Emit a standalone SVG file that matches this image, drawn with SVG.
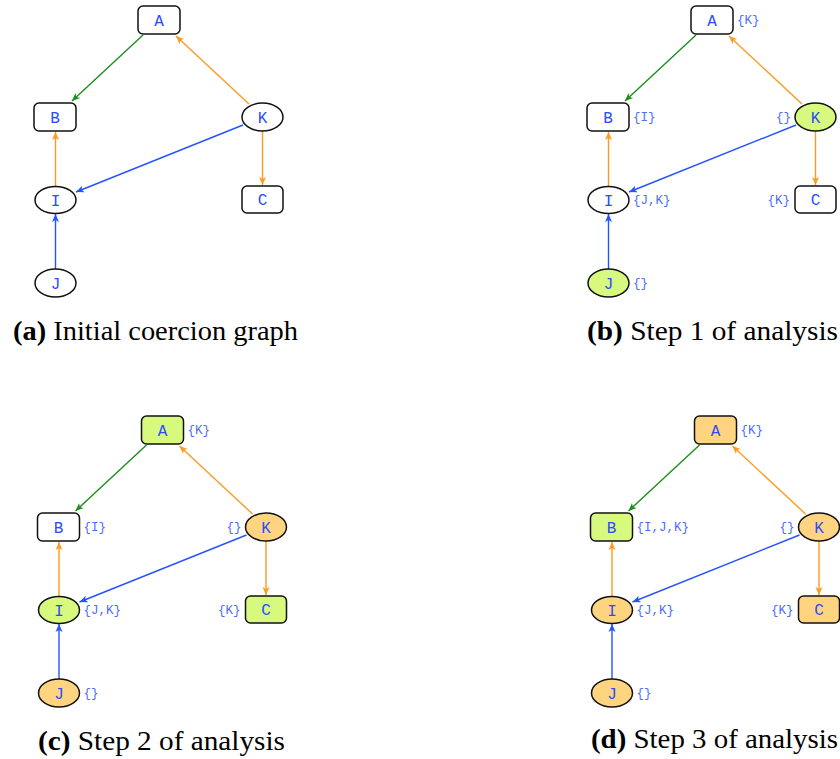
<svg xmlns="http://www.w3.org/2000/svg" width="840" height="759" viewBox="0 0 840 759">
  <defs>
    <marker id="ah-green" markerUnits="userSpaceOnUse" markerWidth="10" markerHeight="8" refX="8" refY="4" orient="auto">
      <path d="M0,0.5 L8,4 L0,7.5 L2,4 z" fill="#1b8f1b"/>
    </marker>
    <marker id="ah-orange" markerUnits="userSpaceOnUse" markerWidth="10" markerHeight="8" refX="8" refY="4" orient="auto">
      <path d="M0,0.5 L8,4 L0,7.5 L2,4 z" fill="#ff9a1f"/>
    </marker>
    <marker id="ah-blue" markerUnits="userSpaceOnUse" markerWidth="10" markerHeight="8" refX="8" refY="4" orient="auto">
      <path d="M0,0.5 L8,4 L0,7.5 L2,4 z" fill="#2453ff"/>
    </marker>
  </defs>
  <style>
    .box, .oval { fill: #ffffff; stroke: #111111; stroke-width: 1.5; }
    .lime { fill: #d6f97e; }
    .amber { fill: #ffd481; }
    .name { font-family: "Liberation Mono", "DejaVu Sans Mono", monospace; font-size: 16px; fill: #2a4bff; text-anchor: middle; }
    .set { font-family: "Liberation Mono", "DejaVu Sans Mono", monospace; font-size: 12.5px; fill: #4a6cff; }
    .end { text-anchor: end; }
    .e { fill: none; stroke-width: 1.4; }
    .g { stroke: #1b8f1b; marker-end: url(#ah-green); }
    .o { stroke: #ff9a1f; marker-end: url(#ah-orange); }
    .b { stroke: #2453ff; marker-end: url(#ah-blue); }
    .cap { font-family: "Liberation Serif", "Times New Roman", serif; font-size: 27px; fill: #000000; }
    .tag { font-weight: bold; }
  </style>

  <!-- (a) initial coercion graph -->
  <g id="panel-a">
    <g id="a-edges">
      <line class="e g" x1="143" y1="35" x2="72" y2="101"/>
      <line class="e o" x1="249" y1="104" x2="176" y2="36"/>
      <line class="e b" x1="243" y1="125" x2="76" y2="192"/>
      <line class="e o" x1="262.5" y1="131" x2="262.5" y2="185"/>
      <line class="e o" x1="55.5" y1="186.5" x2="55.5" y2="132"/>
      <line class="e b" x1="55.5" y1="269" x2="55.5" y2="214"/>
    </g>
    <g id="a-node-A"><rect class="box" x="138" y="6" width="42" height="28" rx="5"/><text class="name" x="159" y="25.5">A</text></g>
    <g id="a-node-B"><rect class="box" x="34" y="103" width="42" height="28" rx="5"/><text class="name" x="55" y="122.5">B</text></g>
    <g id="a-node-K"><ellipse class="oval" cx="262.5" cy="117" rx="20.5" ry="14"/><text class="name" x="262.5" y="122.5">K</text></g>
    <g id="a-node-I"><ellipse class="oval" cx="55.5" cy="200" rx="20.5" ry="13.5"/><text class="name" x="55.5" y="205.5">I</text></g>
    <g id="a-node-C"><rect class="box" x="242" y="186" width="41" height="27" rx="5"/><text class="name" x="262.5" y="205">C</text></g>
    <g id="a-node-J"><ellipse class="oval" cx="55.5" cy="283" rx="20.5" ry="14"/><text class="name" x="55.5" y="288.5">J</text></g>
  </g>
  <text class="cap" x="13" y="340" textLength="285" lengthAdjust="spacingAndGlyphs"><tspan class="tag">(a)</tspan> Initial coercion graph</text>

  <!-- (b) step 1 -->
  <g id="panel-b" transform="translate(553,0)">
    <g id="b-edges">
      <line class="e g" x1="143" y1="35" x2="72" y2="101"/>
      <line class="e o" x1="249" y1="104" x2="176" y2="36"/>
      <line class="e b" x1="243" y1="125" x2="76" y2="192"/>
      <line class="e o" x1="262.5" y1="131" x2="262.5" y2="185"/>
      <line class="e o" x1="55.5" y1="186.5" x2="55.5" y2="132"/>
      <line class="e b" x1="55.5" y1="269" x2="55.5" y2="214"/>
    </g>
    <g id="b-node-A"><rect class="box" x="138" y="6" width="42" height="28" rx="5"/><text class="name" x="159" y="25.5">A</text><text class="set" x="184" y="24">{K}</text></g>
    <g id="b-node-B"><rect class="box" x="34" y="103" width="42" height="28" rx="5"/><text class="name" x="55" y="122.5">B</text><text class="set" x="80" y="121">{I}</text></g>
    <g id="b-node-K"><ellipse class="oval lime" cx="262.5" cy="117" rx="20.5" ry="14"/><text class="name" x="262.5" y="122.5">K</text><text class="set end" x="238" y="121">{}</text></g>
    <g id="b-node-I"><ellipse class="oval" cx="55.5" cy="200" rx="20.5" ry="13.5"/><text class="name" x="55.5" y="205.5">I</text><text class="set" x="80" y="204">{J,K}</text></g>
    <g id="b-node-C"><rect class="box" x="242" y="186" width="41" height="27" rx="5"/><text class="name" x="262.5" y="205">C</text><text class="set end" x="237" y="204">{K}</text></g>
    <g id="b-node-J"><ellipse class="oval lime" cx="55.5" cy="283" rx="20.5" ry="14"/><text class="name" x="55.5" y="288.5">J</text><text class="set" x="80" y="287">{}</text></g>
  </g>
  <text class="cap" x="587" y="340" textLength="251" lengthAdjust="spacingAndGlyphs"><tspan class="tag">(b)</tspan> Step 1 of analysis</text>

  <!-- (c) step 2 -->
  <g id="panel-c" transform="translate(3.5,410)">
    <g id="c-edges">
      <line class="e g" x1="143" y1="35" x2="72" y2="101"/>
      <line class="e o" x1="249" y1="104" x2="176" y2="36"/>
      <line class="e b" x1="243" y1="125" x2="76" y2="192"/>
      <line class="e o" x1="262.5" y1="131" x2="262.5" y2="185"/>
      <line class="e o" x1="55.5" y1="186.5" x2="55.5" y2="132"/>
      <line class="e b" x1="55.5" y1="269" x2="55.5" y2="214"/>
    </g>
    <g id="c-node-A"><rect class="box lime" x="138" y="6" width="42" height="28" rx="5"/><text class="name" x="159" y="25.5">A</text><text class="set" x="184" y="24">{K}</text></g>
    <g id="c-node-B"><rect class="box" x="34" y="103" width="42" height="28" rx="5"/><text class="name" x="55" y="122.5">B</text><text class="set" x="80" y="121">{I}</text></g>
    <g id="c-node-K"><ellipse class="oval amber" cx="262.5" cy="117" rx="20.5" ry="14"/><text class="name" x="262.5" y="122.5">K</text><text class="set end" x="238" y="121">{}</text></g>
    <g id="c-node-I"><ellipse class="oval lime" cx="55.5" cy="200" rx="20.5" ry="13.5"/><text class="name" x="55.5" y="205.5">I</text><text class="set" x="80" y="204">{J,K}</text></g>
    <g id="c-node-C"><rect class="box lime" x="242" y="186" width="41" height="27" rx="5"/><text class="name" x="262.5" y="205">C</text><text class="set end" x="237" y="204">{K}</text></g>
    <g id="c-node-J"><ellipse class="oval amber" cx="55.5" cy="283" rx="20.5" ry="14"/><text class="name" x="55.5" y="288.5">J</text><text class="set" x="80" y="287">{}</text></g>
  </g>
  <text class="cap" x="38" y="750" textLength="247" lengthAdjust="spacingAndGlyphs"><tspan class="tag">(c)</tspan> Step 2 of analysis</text>

  <!-- (d) step 3 -->
  <g id="panel-d" transform="translate(556.5,410)">
    <g id="d-edges">
      <line class="e g" x1="143" y1="35" x2="72" y2="101"/>
      <line class="e o" x1="249" y1="104" x2="176" y2="36"/>
      <line class="e b" x1="243" y1="125" x2="76" y2="192"/>
      <line class="e o" x1="262.5" y1="131" x2="262.5" y2="185"/>
      <line class="e o" x1="55.5" y1="186.5" x2="55.5" y2="132"/>
      <line class="e b" x1="55.5" y1="269" x2="55.5" y2="214"/>
    </g>
    <g id="d-node-A"><rect class="box amber" x="138" y="6" width="42" height="28" rx="5"/><text class="name" x="159" y="25.5">A</text><text class="set" x="184" y="24">{K}</text></g>
    <g id="d-node-B"><rect class="box lime" x="34" y="103" width="42" height="28" rx="5"/><text class="name" x="55" y="122.5">B</text><text class="set" x="80" y="121">{I,J,K}</text></g>
    <g id="d-node-K"><ellipse class="oval amber" cx="262.5" cy="117" rx="20.5" ry="14"/><text class="name" x="262.5" y="122.5">K</text><text class="set end" x="238" y="121">{}</text></g>
    <g id="d-node-I"><ellipse class="oval amber" cx="55.5" cy="200" rx="20.5" ry="13.5"/><text class="name" x="55.5" y="205.5">I</text><text class="set" x="80" y="204">{J,K}</text></g>
    <g id="d-node-C"><rect class="box amber" x="242" y="186" width="41" height="27" rx="5"/><text class="name" x="262.5" y="205">C</text><text class="set end" x="237" y="204">{K}</text></g>
    <g id="d-node-J"><ellipse class="oval amber" cx="55.5" cy="283" rx="20.5" ry="14"/><text class="name" x="55.5" y="288.5">J</text><text class="set" x="80" y="287">{}</text></g>
  </g>
  <text class="cap" x="591" y="748" textLength="247" lengthAdjust="spacingAndGlyphs"><tspan class="tag">(d)</tspan> Step 3 of analysis</text>
</svg>
